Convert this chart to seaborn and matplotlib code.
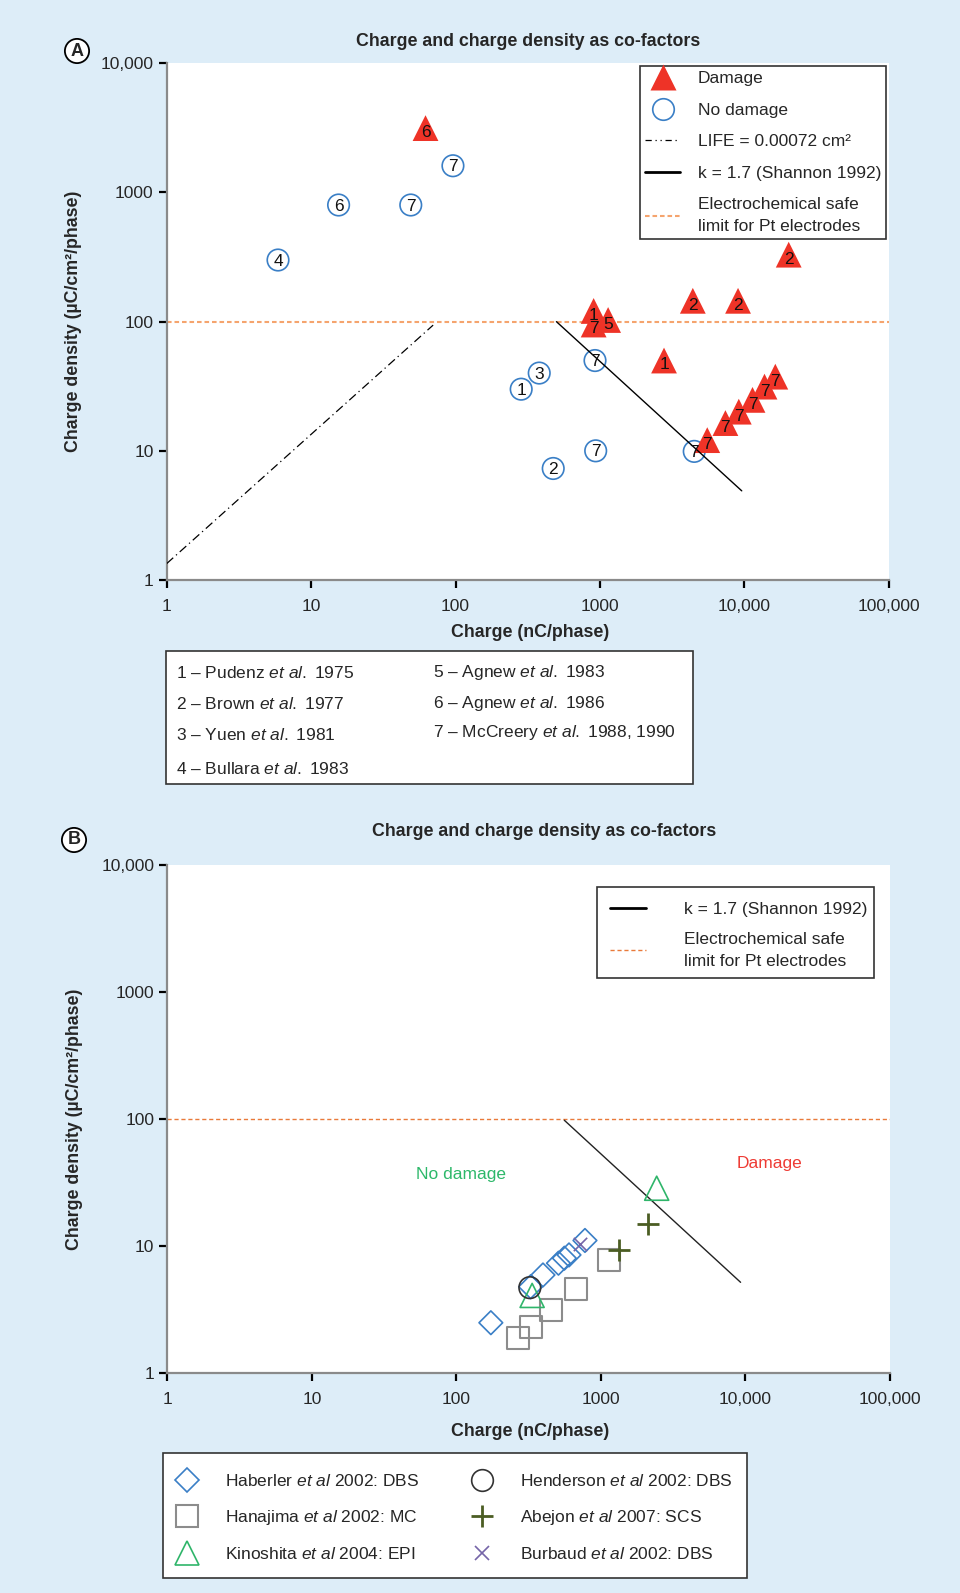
import matplotlib
matplotlib.use('Agg')
import matplotlib.pyplot as plt
from matplotlib.lines import Line2D
from matplotlib.patches import Rectangle
import seaborn as sns

# ---------------- data ----------------
# Panel A: charge (nC/phase) vs charge density (uC/cm2/phase); label = reference number
damage_q = [62, 20300, 4400, 9050, 905, 905, 1140, 2780, 5540, 7400, 9160, 11400, 13800, 16400]
damage_d = [3150, 330, 145, 145, 121, 95, 103, 50, 12.1, 16.4, 20.1, 24.8, 31.4, 37.5]
damage_ref = ['6', '2', '2', '2', '1', '7', '5', '1', '7', '7', '7', '7', '7', '7']

nodamage_q = [96, 15.5, 49, 5.9, 285, 380, 475, 925, 935, 4500]
nodamage_d = [1610, 800, 800, 300, 30, 40, 7.3, 50, 10, 9.9]
nodamage_ref = ['7', '6', '7', '4', '1', '3', '2', '7', '7', '7']

life_q = [1, 70]
life_d = [1.34, 94]
shannon_q = [500, 9600]
shannon_d = [100, 4.9]
safe_limit = 100

refs_left = ['1 – Pudenz $\\mathit{et\\ al.}$ 1975',
             '2 – Brown $\\mathit{et\\ al.}$ 1977',
             '3 – Yuen $\\mathit{et\\ al.}$ 1981',
             '4 – Bullara $\\mathit{et\\ al.}$ 1983']
refs_right = ['5 – Agnew $\\mathit{et\\ al.}$ 1983',
              '6 – Agnew $\\mathit{et\\ al.}$ 1986',
              '7 – McCreery $\\mathit{et\\ al.}$ 1988, 1990']

# Panel B: clinical studies
haberler_q = [173, 326, 397, 508, 558, 601, 775]
haberler_d = [2.5, 4.8, 5.94, 7.35, 8.05, 8.54, 11.1]
hanajima_q = [267, 329, 453, 671, 1130]
hanajima_d = [1.89, 2.33, 3.13, 4.64, 7.76]
kinoshita_q = [334, 2430]
kinoshita_d = [4.1, 28.6]
henderson_q = [322]
henderson_d = [4.72]
abejon_q = [1343, 2118]
abejon_d = [9.35, 14.9]
burbaud_q = [715]
burbaud_d = [10.4]
shannon_b_q = [558, 9250]
shannon_b_d = [98, 5.2]

x_ticks = [1, 10, 100, 1000, 10000, 100000]
x_ticklabels = ['1', '10', '100', '1000', '10,000', '100,000']
y_ticks = [1, 10, 100, 1000, 10000]
y_ticklabels = ['1', '10', '100', '1000', '10,000']

TITLE = 'Charge and charge density as co-factors'
XLABEL = 'Charge (nC/phase)'
YLABEL = 'Charge density (µC/cm²/phase)'

# ---------------- style ----------------
sns.set_theme(style='white')
plt.rcParams['font.family'] = ['Liberation Sans', 'DejaVu Sans']
plt.rcParams['mathtext.fontset'] = 'custom'
plt.rcParams['mathtext.rm'] = 'Liberation Sans'
plt.rcParams['mathtext.it'] = 'Liberation Sans:italic'

BG = '#ddedf8'
RED = '#ee3327'
BLUE = '#3a7fc6'
ORANGE_A = '#f5a46e'
ORANGE_B = '#e97a3a'
FS = 12.5
LFS = 12.8  # titles / axis labels

W, H = 960, 1593
fig = plt.figure(figsize=(W / 100, H / 100), dpi=100, facecolor=BG)


def fx(px):
    return px / W


def fy(py):
    return 1 - py / H


def style_axes(ax):
    ax.set_xscale('log')
    ax.set_yscale('log')
    ax.set_xlim(1, 1e5)
    ax.set_ylim(1, 1e4)
    ax.set_xticks(x_ticks)
    ax.set_xticklabels(x_ticklabels)
    ax.set_yticks(y_ticks)
    ax.set_yticklabels(y_ticklabels)
    ax.minorticks_off()
    ax.set_facecolor('white')
    for s in ['top', 'right']:
        ax.spines[s].set_visible(False)
    for s in ['left', 'bottom']:
        ax.spines[s].set_color('#8a8a8a')
        ax.spines[s].set_linewidth(1.6)
    ax.tick_params(direction='out', length=6, width=1.6, color='black',
                   labelsize=12.5, left=True, bottom=True)
    ax.tick_params(axis='x', pad=7.5)
    ax.tick_params(axis='y', pad=3.5)
    ax.set_xlabel('')
    ax.set_ylabel('')


def panel_label(x, y, letter):
    fig.text(fx(x), fy(y), letter, ha='center', va='center', fontsize=13,
             fontweight='bold',
             bbox=dict(boxstyle='circle,pad=0.2', fc='white', ec='black', lw=1.3))


# ================= Panel A =================
axA = fig.add_axes([fx(166.7), fy(580), fx(888.7) - fx(166.7), (580 - 63.3) / H])

axA.axhline(safe_limit, color=ORANGE_A, lw=1.5, ls=(0, (2.2, 1.4)), zorder=1)
sns.scatterplot(x=nodamage_q, y=nodamage_d, marker='o', s=240, facecolor='none',
                edgecolor=BLUE, linewidth=1.2, ax=axA, zorder=2, legend=False)
sns.scatterplot(x=damage_q, y=damage_d, marker='^', s=345, color=RED,
                edgecolor='none', linewidth=0, ax=axA, zorder=3, legend=False)
sns.lineplot(x=life_q, y=life_d, color='black', lw=0.9, ax=axA, zorder=4,
             linestyle=(0, (7, 3, 1, 3)), legend=False)
sns.lineplot(x=shannon_q, y=shannon_d, color='black', lw=1.0, ax=axA, zorder=4,
             legend=False)

for q, d, r in zip(nodamage_q, nodamage_d, nodamage_ref):
    axA.annotate(r, (q, d), xytext=(0, -0.8), textcoords='offset points',
                 ha='center', va='center', fontsize=12.5, color='#111111', zorder=5)
for q, d, r in zip(damage_q, damage_d, damage_ref):
    axA.annotate(r, (q, d), xytext=(0, -3.2), textcoords='offset points',
                 ha='center', va='center', fontsize=12.5, color='#111111', zorder=5)

style_axes(axA)

handles_a = [
    Line2D([], [], ls='none', marker='^', ms=18.5, mfc=RED, mec='none'),
    Line2D([], [], ls='none', marker='o', ms=15.5, mfc='none', mec=BLUE, mew=1.2),
    Line2D([], [], color='black', lw=0.9, ls=(0, (5, 3, 1, 3, 1, 3))),
    Line2D([], [], color='black', lw=2.0),
    Line2D([], [], color=ORANGE_A, lw=1.5, ls=(0, (2.2, 1.4))),
]
labels_a = ['Damage', 'No damage', 'LIFE = 0.00072 cm²', 'k = 1.7 (Shannon 1992)',
            'Electrochemical safe\nlimit for Pt electrodes']
legA = axA.legend(handles_a, labels_a, loc='upper right', borderaxespad=0.15,
                  fontsize=FS, frameon=True, fancybox=False, framealpha=1,
                  edgecolor='#333333', handlelength=2.0, handletextpad=1.0,
                  labelspacing=0.94, borderpad=0.3)
legA.get_frame().set_linewidth(1.2)
for t in legA.get_texts():
    t.set_linespacing(1.6)

fig.text(fx(528), fy(41.6), TITLE, ha='center', va='center', fontsize=LFS,
         fontweight='bold')
fig.text(fx(530), fy(633), XLABEL, ha='center', va='center', fontsize=LFS,
         fontweight='bold')
fig.text(fx(74), fy(321.7), YLABEL, ha='center', va='center', rotation=90,
         fontsize=LFS, fontweight='bold')
panel_label(77, 51, 'A')

# reference list box
fig.patches.append(Rectangle((fx(166), fy(784)), fx(693) - fx(166), (784 - 651) / H,
                             transform=fig.transFigure, fc='white', ec='#333333',
                             lw=1.2, zorder=0))
for y, t in zip([673, 704, 735, 769], refs_left):
    fig.text(fx(176), fy(y), t, ha='left', va='center', fontsize=FS)
for y, t in zip([673, 704, 733], refs_right):
    fig.text(fx(433), fy(y), t, ha='left', va='center', fontsize=FS)

# ================= Panel B =================
axB = fig.add_axes([fx(167.4), fy(1373.3), fx(890) - fx(167.4), (1373.3 - 865) / H])

axB.axhline(safe_limit, color=ORANGE_B, lw=1.0, ls=(0, (3, 2)), zorder=1)
sns.lineplot(x=shannon_b_q, y=shannon_b_d, color='#222222', lw=1.0, ax=axB, zorder=2,
             legend=False)
sns.scatterplot(x=hanajima_q, y=hanajima_d, marker='s', s=250, facecolor='none',
                edgecolor='#8c8c8c', linewidth=1.5, ax=axB, zorder=3, legend=False)
sns.scatterplot(x=haberler_q, y=haberler_d, marker='D', s=145, facecolor='none',
                edgecolor=BLUE, linewidth=1.2, ax=axB, zorder=4, legend=False)
sns.scatterplot(x=kinoshita_q, y=kinoshita_d, marker='^', s=300, facecolor='none',
                edgecolor='#2fb56a', linewidth=1.2, ax=axB, zorder=5, legend=False)
sns.scatterplot(x=henderson_q, y=henderson_d, marker='o', s=243, facecolor='none',
                edgecolor='#333333', linewidth=1.2, ax=axB, zorder=6, legend=False)
sns.scatterplot(x=abejon_q, y=abejon_d, marker='+', s=243, color='#4b5d23',
                linewidth=2.0, ax=axB, zorder=6, legend=False)
sns.scatterplot(x=burbaud_q, y=burbaud_d, marker='x', s=93, color='#7565a8',
                linewidth=1.2, ax=axB, zorder=6, legend=False)

axB.text(108, 37, 'No damage', color='#2db86a', fontsize=FS, ha='center', va='center')
axB.text(14700, 45, 'Damage', color='#ee3b34', fontsize=FS, ha='center', va='center')

style_axes(axB)

# line legend (frame drawn separately for exact padding)
axB.add_patch(Rectangle((fx(597.4), fy(978.3)), fx(874) - fx(597.4), (978.3 - 887) / H,
                        transform=fig.transFigure, fc='white', ec='#333333', lw=1.2,
                        zorder=7))
handles_b = [
    Line2D([], [], color='black', lw=2.0),
    Line2D([], [], color=ORANGE_B, lw=1.0, ls=(0, (3, 2))),
]
labels_b = ['k = 1.7 (Shannon 1992)', 'Electrochemical safe\nlimit for Pt electrodes']
legB = axB.legend(handles_b, labels_b, loc='upper left',
                  bbox_to_anchor=(fx(610), fy(902)), bbox_transform=fig.transFigure,
                  borderaxespad=0, fontsize=FS, frameon=False, handlelength=2.1,
                  handletextpad=2.15, labelspacing=0.85, borderpad=0)
legB.set_zorder(8)
for t in legB.get_texts():
    t.set_linespacing(1.6)

fig.text(fx(544), fy(831), TITLE, ha='center', va='center', fontsize=LFS,
         fontweight='bold')
fig.text(fx(530), fy(1432), XLABEL, ha='center', va='center', fontsize=LFS,
         fontweight='bold')
fig.text(fx(75), fy(1119), YLABEL, ha='center', va='center', rotation=90,
         fontsize=LFS, fontweight='bold')
panel_label(74, 840, 'B')

# study legend box
fig.patches.append(Rectangle((fx(162.6), fy(1577.7)), fx(746.7) - fx(162.6),
                             (1577.7 - 1452.7) / H, transform=fig.transFigure,
                             fc='white', ec='#333333', lw=1.2, zorder=0))
handles_s = [
    Line2D([], [], ls='none', marker='D', ms=11.8, mfc='none', mec=BLUE, mew=1.2),
    Line2D([], [], ls='none', marker='s', ms=16, mfc='none', mec='#8c8c8c', mew=1.5),
    Line2D([], [], ls='none', marker='^', ms=17.5, mfc='none', mec='#2fb56a', mew=1.2),
    Line2D([], [], ls='none', marker='o', ms=15.6, mfc='none', mec='#333333', mew=1.2),
    Line2D([], [], ls='none', marker='+', ms=15.6, mec='#4b5d23', mew=2.0),
    Line2D([], [], ls='none', marker='x', ms=9.6, mec='#7565a8', mew=1.2),
]
labels_s = ['Haberler $\\mathit{et\\ al}$ 2002: DBS',
            'Hanajima $\\mathit{et\\ al}$ 2002: MC',
            'Kinoshita $\\mathit{et\\ al}$ 2004: EPI',
            'Henderson $\\mathit{et\\ al}$ 2002: DBS',
            'Abejon $\\mathit{et\\ al}$ 2007: SCS',
            'Burbaud $\\mathit{et\\ al}$ 2002: DBS']
fig.legend(handles_s, labels_s, ncol=2, loc='upper left',
           bbox_to_anchor=(fx(171), fy(1473)), frameon=False, fontsize=FS,
           borderpad=0, borderaxespad=0, handlelength=1.8, handletextpad=1.3,
           columnspacing=2.7, labelspacing=1.1)

fig.savefig('out.png', dpi=100, facecolor=BG)
